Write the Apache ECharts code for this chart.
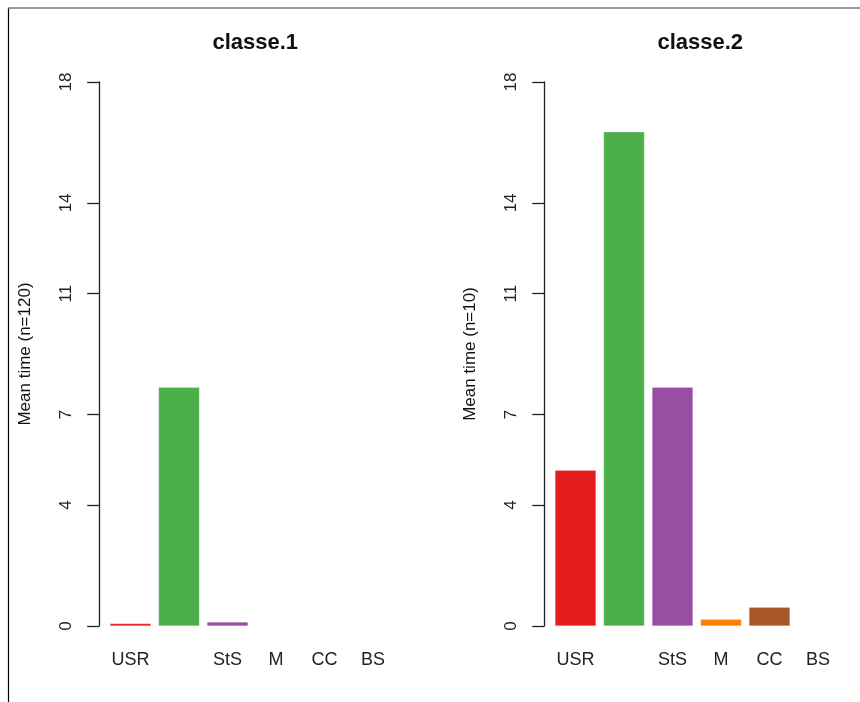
<!DOCTYPE html>
<html>
<head>
<meta charset="utf-8">
<script src="https://cdn.jsdelivr.net/npm/echarts@6/dist/echarts.min.js"></script>
<style>
html,body{margin:0;padding:0;background:#fff;}
#c{width:860px;height:702px;}
</style>
</head>
<body>
<div id="c"></div>
<script>
var categories = ["USR", "", "StS", "M", "CC", "BS"];
var barColors = ["#E41A1C", "#4DAF4A", "#984EA3", "#FF7F00", "#A65628", "#FFFF33"];
var panelTitles = ["classe.1", "classe.2"];
var axisTitles = ["Mean time (n=120)", "Mean time (n=10)"];
var classe1 = [0.08, 7.9, 0.13, 0, 0, 0];
var classe2 = [5.15, 16.35, 7.9, 0.22, 0.62, 0];
var yTicks = [0, 4, 7, 11, 14, 18];
var panels = [classe1, classe2];

var FONT = "Liberation Sans";
var chart = echarts.init(document.getElementById('c'), null, {renderer: 'canvas'});
var gridLefts = [106.25, 551.25];

var grids = [], xAxes = [], yAxes = [], series = [], titles = [];
panels.forEach(function (vals, i) {
  grids.push({left: gridLefts[i], width: 291, top: 82, height: 544, containLabel: false});
  titles.push({
    text: panelTitles[i], left: gridLefts[i] + 144, top: 27, textAlign: 'center',
    textStyle: {fontFamily: FONT, fontWeight: 'bold', fontSize: 22, color: '#111'}
  });
  xAxes.push({
    type: 'category', gridIndex: i, data: categories,
    axisLine: {show: false}, axisTick: {show: false},
    axisLabel: {margin: 25, fontFamily: FONT, fontSize: 18, color: '#222', interval: 0}
  });
  yAxes.push({
    type: 'value', gridIndex: i, min: 0, max: 18, offset: 7,
    name: axisTitles[i], nameLocation: 'middle', nameGap: 65, nameRotate: 90,
    nameTextStyle: {fontFamily: FONT, fontSize: 17, color: '#111'},
    splitLine: {show: false},
    axisLine: {show: true, lineStyle: {color: '#222', width: 1.3}},
    axisTick: {show: true, length: 12, customValues: yTicks, lineStyle: {color: '#222', width: 1.3}},
    axisLabel: {show: true, customValues: yTicks, rotate: 90, margin: 24,
      fontFamily: FONT, fontSize: 17, color: '#222'}
  });
  series.push({
    type: 'bar', xAxisIndex: i, yAxisIndex: i, barWidth: 41,
    data: vals.map(function (v, k) {
      return {value: v, itemStyle: {color: barColors[k]}};
    }),
    itemStyle: {borderColor: 'rgba(255,255,255,0.4)', borderWidth: 0.5},
    animation: false
  });
});

chart.setOption({
  animation: false,
  backgroundColor: '#fff',
  title: titles,
  grid: grids,
  xAxis: xAxes,
  yAxis: yAxes,
  series: series,
  graphic: [
    {type: 'line', shape: {x1: 8.5, y1: 8, x2: 8.5, y2: 702}, style: {stroke: '#000', lineWidth: 1.2}, silent: true},
    {type: 'line', shape: {x1: 8, y1: 8, x2: 860, y2: 8}, style: {stroke: '#777', lineWidth: 1.5}, silent: true}
  ]
});
</script>
</body>
</html>
